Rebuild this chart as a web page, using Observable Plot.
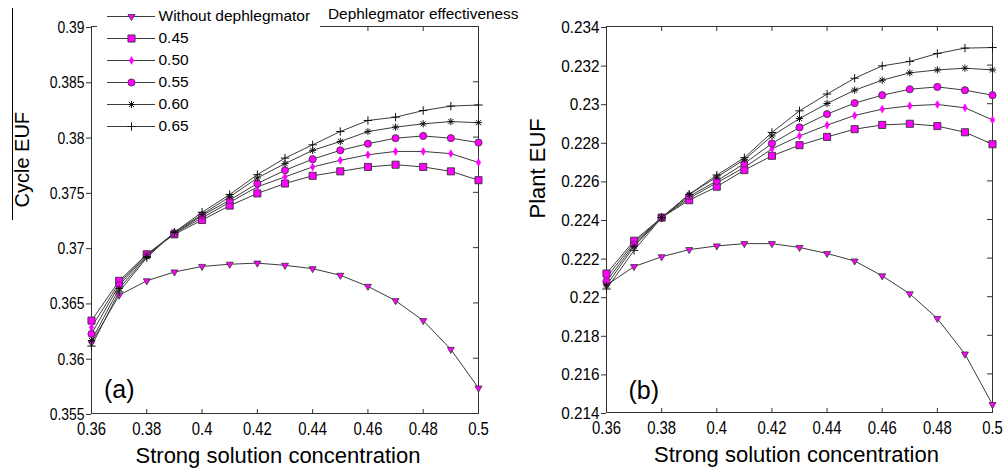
<!DOCTYPE html>
<html><head><meta charset="utf-8">
<script src="https://cdn.jsdelivr.net/npm/d3@7"></script>
<script src="https://cdn.jsdelivr.net/npm/@observablehq/plot@0.6"></script>
<style>
body{margin:0;background:#fff;}
#wrap{position:relative;width:1004px;height:472px;overflow:hidden;font-family:"Liberation Sans",Arial,sans-serif;color:#000;}
#wrap svg{position:absolute;top:0;max-width:none;}
#title{position:absolute;left:328px;top:6px;font-size:15.4px;line-height:1;white-space:nowrap;z-index:5;}
#vline{position:absolute;left:12px;top:8px;width:1px;height:212px;background:#000;z-index:5;}
</style></head><body>
<div id="wrap"></div>
<script>
// ---- data ----
const concentration = [0.36,0.37,0.38,0.39,0.40,0.41,0.42,0.43,0.44,0.45,0.46,0.47,0.48,0.49,0.50];
const seriesLabels = ["Without dephlegmator","0.45","0.50","0.55","0.60","0.65"];
const xTickValues = [0.36,0.38,0.4,0.42,0.44,0.46,0.48,0.5];
const yTicksCycle = [0.355,0.36,0.365,0.37,0.375,0.38,0.385,0.39];
const yTicksPlant = [0.214,0.216,0.218,0.22,0.222,0.224,0.226,0.228,0.23,0.232,0.234];

// (a) Cycle EUF
const cycleWithout = [0.3614,0.3657,0.3670,0.3678,0.3683,0.3685,0.3686,0.3684,0.3681,0.3675,0.3665,0.3652,0.3634,0.3608,0.3573];
const cycle045 = [0.3634,0.3670,0.3694,0.3712,0.3725,0.3738,0.3749,0.3758,0.3765,0.3769,0.3773,0.3775,0.3773,0.3769,0.3761];
const cycle050 = [0.3628,0.3668,0.3694,0.3713,0.3727,0.3741,0.3755,0.3764,0.3773,0.3779,0.3784,0.3787,0.3787,0.3785,0.3777];
const cycle055 = [0.3622,0.3666,0.3693,0.3713,0.3729,0.3743,0.3758,0.3770,0.3780,0.3788,0.3794,0.3799,0.3801,0.3799,0.3795];
const cycle060 = [0.3616,0.3663,0.3692,0.3714,0.3730,0.3746,0.3763,0.3776,0.3788,0.3796,0.3805,0.3809,0.3812,0.3814,0.3813];
const cycle065 = [0.3611,0.3660,0.3691,0.3714,0.3732,0.3748,0.3766,0.3781,0.3793,0.3805,0.3815,0.3818,0.3824,0.3828,0.3829];

// (b) Plant EUF
const plantWithout = [0.2206,0.22156,0.22207,0.22244,0.22263,0.22275,0.22275,0.22255,0.22224,0.22185,0.22108,0.22015,0.21887,0.21703,0.21441];
const plant045 = [0.2212,0.2229,0.2241,0.2250,0.2257,0.22656,0.2273,0.22785,0.22828,0.22868,0.2289,0.22896,0.22884,0.22852,0.2279];
const plant050 = [0.2210,0.2228,0.2241,0.2251,0.2259,0.2267,0.22766,0.22833,0.22889,0.22939,0.22972,0.22989,0.22996,0.22979,0.22916];
const plant055 = [0.2208,0.2227,0.2241,0.2252,0.2260,0.2269,0.22794,0.22877,0.22946,0.23003,0.23044,0.23075,0.23087,0.2307,0.23044];
const plant060 = [0.2206,0.2226,0.2241,0.2253,0.2262,0.2271,0.22833,0.22923,0.23001,0.2307,0.23122,0.2316,0.23175,0.23184,0.23175];
const plant065 = [0.2204,0.2224,0.2241,0.2253,0.2263,0.2272,0.22851,0.22963,0.2305,0.23132,0.23196,0.23219,0.2326,0.23288,0.23291];

// ---- symbols & styles ----
const triangleDown = {draw(ctx, size){const a=Math.sqrt(4*size/Math.sqrt(3)),h=a*Math.sqrt(3)/2;ctx.moveTo(-a/2,-h/3);ctx.lineTo(a/2,-h/3);ctx.lineTo(0,2*h/3);ctx.closePath();}};
const star8 = {draw(ctx, size){const r=Math.sqrt(size/Math.PI),d=r*0.72;ctx.moveTo(-r,0);ctx.lineTo(r,0);ctx.moveTo(0,-r);ctx.lineTo(0,r);ctx.moveTo(-d,-d);ctx.lineTo(d,d);ctx.moveTo(-d,d);ctx.lineTo(d,-d);}};
const plus = {draw(ctx, size){const r=Math.sqrt(size/Math.PI);ctx.moveTo(-r,0);ctx.lineTo(r,0);ctx.moveTo(0,-r);ctx.lineTo(0,r);}};
const MAG = "#ff00ff", EDGE = "#333333", LINE = "#3c3c3c";
const styles = [
  {symbol: triangleDown, r: 2.6, fill: MAG, stroke: EDGE, strokeWidth: 0.8},
  {symbol: "square", r: 4, fill: MAG, stroke: EDGE, strokeWidth: 0.9},
  {symbol: "diamond", r: 2.4, fill: MAG, stroke: MAG, strokeWidth: 0.5},
  {symbol: "circle", r: 3.6, fill: MAG, stroke: EDGE, strokeWidth: 0.8},
  {symbol: star8, r: 3.6, fill: "none", stroke: "#111", strokeWidth: 1},
  {symbol: plus, r: 4.2, fill: "none", stroke: "#111", strokeWidth: 1}
];
const REG = '"Liberation Sans",Arial,sans-serif';

function toRows(seriesArrays){
  const rows = [];
  seriesArrays.forEach((arr, si) => arr.forEach((v, i) => rows.push({x: concentration[i], y: v, series: seriesLabels[si]})));
  return rows;
}

// horizontally condense the axis tick labels (the reference uses a narrow face)
function condense(svg, selector, sx){
  svg.querySelectorAll(selector + " text").forEach(t => {
    let tr = t.getAttribute("transform");
    if (!tr) {
      const x = t.getAttribute("x") || 0, y = t.getAttribute("y") || 0;
      t.removeAttribute("x"); t.removeAttribute("y");
      tr = `translate(${x},${y})`;
    }
    t.setAttribute("transform", tr + ` scale(${sx},1)`);
  });
}

function panel(o){
  const H = 472;
  const plotW = o.width - o.marginLeft - o.marginRight;
  const plotH = H - o.marginTop - o.marginBottom;
  const rows = toRows(o.series);
  const marks = [
    Plot.frame({stroke: "#333"}),
    Plot.tickX(xTickValues, {x: d => d, insetTop: plotH - 4, stroke: "#333"}),
    Plot.tickX(xTickValues, {x: d => d, insetBottom: plotH - 5, stroke: "#333"}),
    Plot.tickY(o.yTicks, {y: d => d, insetLeft: plotW - 5, stroke: "#333"}),
    Plot.axisX({ticks: xTickValues, tickSize: 0, tickPadding: 9, tickFormat: d => String(d), fontSize: 17.5, label: null}),
    Plot.axisY({ticks: o.yTicks, tickSize: 5, tickPadding: 2, tickFormat: d => String(d), fontSize: 17, stroke: "#333", dy: 1, label: null}),
    Plot.line(rows, {x: "x", y: "y", z: "series", stroke: LINE, strokeWidth: 1})
  ];
  seriesLabels.forEach((s, si) => {
    marks.push(Plot.dot(rows.filter(r => r.series === s), {x: "x", y: "y", ...styles[si]}));
  });
  marks.push(
    Plot.text(["Strong solution concentration"], {frameAnchor: "bottom", dy: 49, dx: o.xLabelDx, fontSize: 22, fontFamily: REG}),
    Plot.text([o.yLabel], {frameAnchor: "left", rotate: -90, dx: -69, dy: o.yLabelDy, fontSize: o.yLabelFont, fontFamily: REG}),
    Plot.text([o.tag], {frameAnchor: "bottom-left", textAnchor: "start", lineAnchor: "bottom", dx: o.tagDx, dy: o.tagDy, fontSize: 25, fontFamily: REG})
  );
  const svg = Plot.plot({
    width: o.width, height: H,
    marginLeft: o.marginLeft, marginRight: o.marginRight, marginTop: o.marginTop, marginBottom: o.marginBottom,
    x: {domain: [0.36, 0.5]},
    y: {domain: o.yDomain},
    style: {fontFamily: REG, color: "#000", background: "transparent", overflow: "visible"},
    marks
  });
  condense(svg, 'g[aria-label="x-axis tick label"]', 0.85);
  condense(svg, 'g[aria-label="y-axis tick label"]', o.ySx);
  svg.style.left = o.left + "px";
  svg.style.width = o.width + "px";
  svg.style.height = H + "px";
  return svg;
}

const wrap = document.getElementById("wrap");
wrap.appendChild(panel({
  left: 0, width: 500, marginLeft: 91, marginRight: 22, marginTop: 26, marginBottom: 59,
  yDomain: [0.355, 0.39], yTicks: yTicksCycle, ySx: 0.82,
  series: [cycleWithout, cycle045, cycle050, cycle055, cycle060, cycle065],
  yLabel: "Cycle EUF", yLabelFont: 20, yLabelDy: -12.5, xLabelDx: -7,
  tag: "(a)", tagDx: 12.5, tagDy: -16
}));
wrap.appendChild(panel({
  left: 500, width: 504, marginLeft: 106, marginRight: 12, marginTop: 26, marginBottom: 60,
  yDomain: [0.214, 0.234], yTicks: yTicksPlant, ySx: 0.9,
  series: [plantWithout, plant045, plant050, plant055, plant060, plant065],
  yLabel: "Plant EUF", yLabelFont: 22, yLabelDy: -1, xLabelDx: -3,
  tag: "(b)", tagDx: 22, tagDy: -14
}));

// legend
const legendMarks = [
  Plot.ruleY(seriesLabels, {y: d => d, x1: 10, x2: 58, stroke: LINE, strokeWidth: 1}),
  Plot.text(seriesLabels, {x: 61, y: d => d, text: d => d, textAnchor: "start", fontSize: 15.5, fontFamily: REG})
];
seriesLabels.forEach((s, si) => legendMarks.push(Plot.dot([s], {x: 34, y: d => d, ...styles[si]})));
const legend = Plot.plot({
  width: 223, height: 138, margin: 0,
  x: {domain: [0, 223], range: [0, 223], axis: null},
  y: {type: "point", domain: seriesLabels, range: [15, 127.5], padding: 0, axis: null},
  style: {background: "#fff", color: "#000", fontFamily: REG, overflow: "visible"},
  marks: legendMarks
});
legend.style.left = "97px";
legend.style.width = "223px";
legend.style.height = "138px";
legend.style.zIndex = 3;
wrap.appendChild(legend);

const title = document.createElement("div");
title.id = "title"; title.textContent = "Dephlegmator effectiveness";
wrap.appendChild(title);
const vline = document.createElement("div");
vline.id = "vline"; wrap.appendChild(vline);
</script>
</body></html>
